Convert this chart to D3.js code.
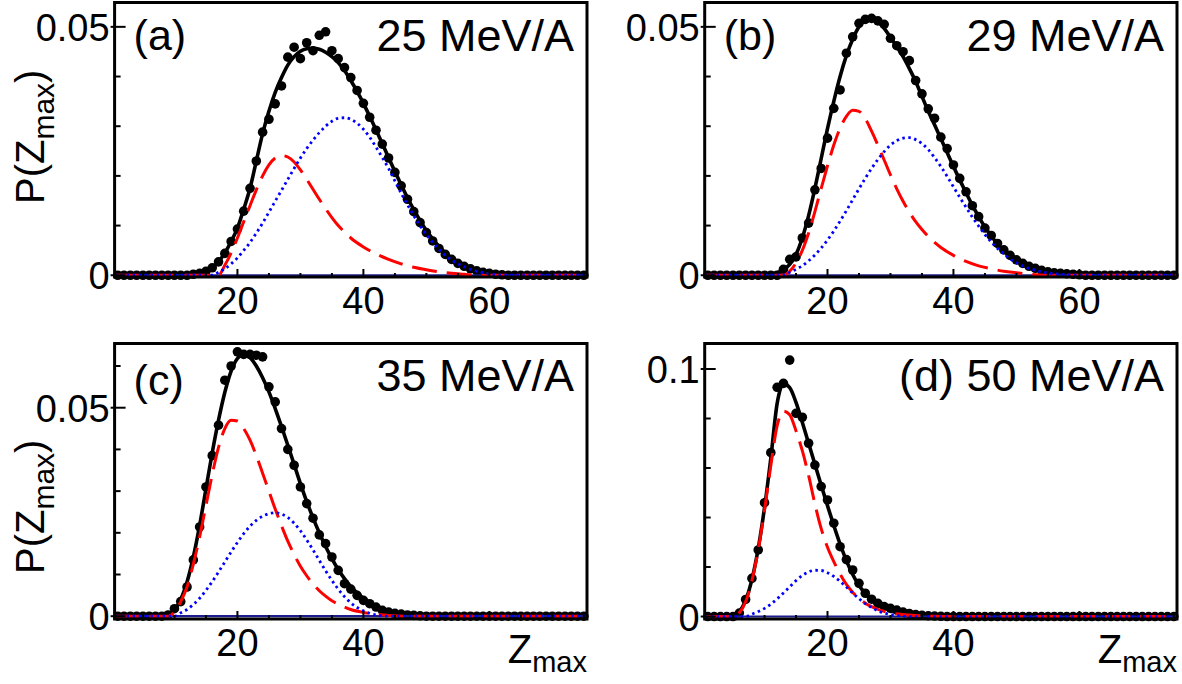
<!DOCTYPE html>
<html>
<head>
<meta charset="utf-8">
<script src="https://cdn.jsdelivr.net/npm/d3@7/dist/d3.min.js"></script>
<style>
body { margin: 0; background: #fff; }
svg text { font-family: "Liberation Sans", Arial, Helvetica, sans-serif; fill: #000; }
</style>
</head>
<body>
<svg id="chart" width="1182" height="684"></svg>
<script>
// ---- data: P(Zmax) for Zmax = 1..75 ----
var pointsA = [0,0,0,0,0,0,0,0,0,0,0,0,
    0.0002,0.0004,0.0008,0.0015,0.0027,0.0044,0.0068,0.0093,0.0129,0.0175,
    0.0230,0.0288,0.0314,0.0345,0.0381,0.0439,0.0459,0.0436,0.0468,0.0452,
    0.0483,0.0490,0.0452,0.0436,0.0418,0.0398,0.0372,0.0346,0.0318,0.0292,
    0.0264,0.0236,0.0207,0.0180,0.0153,0.0128,0.0106,0.0086,0.0069,0.0054,
    0.0042,0.0032,0.0024,0.0018,0.0013,0.0009,0.0006,0.0004,0.0002,0.0001,
    0,0,0,0,0,0,0,0,0,0,0,0,0];
var pointsB = [0,0,0,0,0,0,0,0,0,0,0,0,
    0.0012,0.0032,0.0037,0.0075,0.0105,0.0172,0.0215,0.0276,0.0336,0.0373,
    0.0447,0.0480,0.0507,0.0515,0.0517,0.0512,0.0505,0.0477,0.0462,0.0450,
    0.0432,0.0392,0.0365,0.0335,0.0316,0.0278,0.0255,0.0222,0.0195,0.0168,
    0.0140,0.0118,0.0095,0.0080,0.0064,0.0051,0.0040,0.0031,0.0024,0.0018,
    0.0014,0.0010,0.0007,0.0005,0.0004,0.0003,0.0002,0.0001,
    0,0,0,0,0,0,0,0,0,0,0,0,0,0,0];
var pointsC = [0,0,0,0,0,0,0,0,
    0.0003,0.0018,0.0035,0.0070,0.0135,0.0214,0.0310,0.0385,0.0458,0.0566,
    0.0600,0.0634,0.0628,0.0628,0.0626,0.0622,0.0550,0.0514,0.0450,0.0400,
    0.0362,0.0310,0.0270,0.0235,0.0195,0.0174,0.0142,0.0110,0.0078,0.0065,
    0.0050,0.0038,0.0030,0.0022,0.0014,0.0010,0.0007,0.0005,0.0003,0.0002,
    0.0001,
    0,0,0,0,0,0,0,0,0,0,0,0,0,0,0,0,0,0,0,0,0,0,0,0,0,0];
var pointsD = [0,0,0,0,0,
    0.0014,0.0069,0.0154,0.0269,0.0460,0.0662,0.0926,0.0942,0.1036,0.0821,
    0.0805,0.0700,0.0612,0.0525,0.0471,0.0377,0.0282,0.0230,0.0188,0.0134,
    0.0094,0.0070,0.0053,0.0040,0.0033,0.0026,0.0018,0.0012,0.0008,0.0005,
    0.0003,0.0002,0.0001,
    0,0,0,0,0,0,0,0,0,0,0,0,0,0,0,0,0,0,0,0,0,0,0,0,0,0,0,0,0,0,0,0,0,0,0,0,0];

// fit curves [Zmax, P]: total (solid), component 1 (dashed), component 2 (dotted)
var totalA = [[0.5,0],[10,0],[12,0.0001],[13,0.0002],[14,0.0004],[15,0.0008],[16,0.0015],[17,0.0027],
    [18,0.0045],[19,0.0068],[20,0.0095],[21,0.0133],[22,0.0175],[23,0.0230],[24,0.0285],[25,0.0330],
    [26,0.0368],[27,0.0398],[28,0.0423],[29,0.0440],[30,0.0451],[31,0.0456],[32,0.0457],[33,0.0455],
    [34,0.0449],[35,0.0440],[36,0.0428],[37,0.0412],[38,0.0392],[39,0.0370],[40,0.0346],[41,0.0320],
    [42,0.0293],[43,0.0265],[44,0.0237],[45,0.0209],[46,0.0182],[47,0.0156],[48,0.0132],[49,0.0110],
    [50,0.0090],[51,0.0073],[52,0.0058],[53,0.0045],[54,0.0035],[55,0.0027],[56,0.0020],[57,0.0015],
    [58,0.0011],[59,0.0008],[60,0.0005],[62,0.0002],[64,0],[75.5,0]];
var redA = [[0.5,0],[17,0],[18,0.0020],[19,0.0045],[20,0.0075],[21,0.0108],[22,0.0140],[23,0.0172],
    [24,0.0200],[25,0.0222],[26,0.0236],[27,0.0241],[28,0.0238],[29,0.0228],[30,0.0212],[31,0.0193],
    [32,0.0173],[33,0.0153],[34,0.0134],[35,0.0116],[36,0.0100],[37,0.0087],[38,0.0075],[40,0.0057],
    [42,0.0043],[44,0.0032],[46,0.0023],[48,0.0016],[50,0.0011],[52,0.0007],[54,0.0004],[56,0.0002],
    [58,0],[75.5,0]];
var blueA = [[0.5,0],[16,0],[17,0.0006],[18,0.0013],[19,0.0023],[20,0.0035],[21,0.0050],[22,0.0066],
    [23,0.0085],[24,0.0105],[25,0.0127],[26,0.0149],[27,0.0171],[28,0.0193],[29,0.0215],[30,0.0236],
    [31,0.0255],[32,0.0272],[33,0.0287],[34,0.0300],[35,0.0310],[36,0.0316],[37,0.0317],[38,0.0314],
    [39,0.0306],[40,0.0294],[41,0.0278],[42,0.0258],[43,0.0237],[44,0.0215],[45,0.0190],[46,0.0165],
    [47,0.0142],[48,0.0120],[49,0.0100],[50,0.0082],[51,0.0066],[52,0.0052],[53,0.0040],[54,0.0031],
    [55,0.0023],[56,0.0017],[57,0.0012],[58,0.0008],[60,0.0003],[62,0],[75.5,0]];

var totalB = [[0.5,0],[10,0],[11,0.0002],[12,0.0005],[13,0.0011],[14,0.0022],[15,0.0042],[16,0.0075],
    [17,0.0120],[18,0.0175],[19,0.0235],[20,0.0295],[21,0.0350],[22,0.0400],[23,0.0442],[24,0.0475],
    [25,0.0500],[26,0.0513],[27,0.0516],[28,0.0510],[29,0.0497],[30,0.0479],[31,0.0460],[32,0.0440],
    [33,0.0416],[34,0.0390],[35,0.0360],[36,0.0330],[37,0.0303],[38,0.0275],[39,0.0247],[40,0.0219],
    [41,0.0192],[42,0.0166],[43,0.0141],[44,0.0118],[45,0.0097],[46,0.0079],[47,0.0063],[48,0.0049],
    [49,0.0038],[50,0.0029],[51,0.0022],[52,0.0016],[53,0.0012],[54,0.0008],[55,0.0006],[56,0.0004],
    [58,0.0002],[60,0],[75.5,0]];
var redB = [[0.5,0],[13,0],[14,0.0008],[15,0.0025],[16,0.0050],[17,0.0085],[18,0.0128],[19,0.0175],
    [20,0.0220],[21,0.0262],[22,0.0296],[23,0.0320],[24,0.0332],[25,0.0330],[26,0.0315],[27,0.0290],
    [28,0.0262],[29,0.0232],[30,0.0202],[31,0.0174],[32,0.0149],[33,0.0127],[34,0.0108],[35,0.0092],
    [36,0.0078],[37,0.0066],[38,0.0056],[40,0.0040],[42,0.0028],[44,0.0019],[46,0.0013],[48,0.0008],
    [50,0.0005],[52,0.0002],[55,0],[75.5,0]];
var blueB = [[0.5,0],[13,0],[14,0.0006],[15,0.0012],[16,0.0019],[17,0.0029],[18,0.0041],[19,0.0055],
    [20,0.0071],[21,0.0089],[22,0.0109],[23,0.0130],[24,0.0152],[25,0.0174],[26,0.0195],[27,0.0215],
    [28,0.0233],[29,0.0249],[30,0.0262],[31,0.0271],[32,0.0276],[33,0.0277],[34,0.0273],[35,0.0265],
    [36,0.0253],[37,0.0237],[38,0.0219],[39,0.0199],[40,0.0178],[41,0.0157],[42,0.0137],[43,0.0117],
    [44,0.0099],[45,0.0082],[46,0.0067],[47,0.0054],[48,0.0043],[49,0.0033],[50,0.0025],[51,0.0019],
    [52,0.0014],[54,0.0007],[56,0.0003],[58,0.0001],[60,0],[75.5,0]];

var totalC = [[0.5,0],[8,0],[9,0.0004],[10,0.0015],[11,0.0040],[12,0.0082],[13,0.0142],[14,0.0218],
    [15,0.0305],[16,0.0392],[17,0.0470],[18,0.0537],[19,0.0588],[20,0.0618],[21,0.0628],[22,0.0620],
    [23,0.0600],[24,0.0572],[25,0.0538],[26,0.0498],[27,0.0455],[28,0.0410],[29,0.0364],[30,0.0318],
    [31,0.0275],[32,0.0236],[33,0.0200],[34,0.0167],[35,0.0138],[36,0.0112],[37,0.0090],[38,0.0071],
    [39,0.0056],[40,0.0043],[41,0.0033],[42,0.0025],[43,0.0018],[44,0.0013],[45,0.0009],[46,0.0006],
    [48,0.0003],[50,0.0001],[52,0],[75.5,0]];
var redC = [[0.5,0],[9,0],[10,0.0010],[11,0.0035],[12,0.0070],[13,0.0125],[14,0.0190],[15,0.0265],
    [16,0.0340],[17,0.0405],[18,0.0450],[19,0.0470],[20,0.0468],[21,0.0450],[22,0.0422],[23,0.0385],
    [24,0.0343],[25,0.0300],[26,0.0257],[27,0.0217],[28,0.0180],[29,0.0148],[30,0.0120],[31,0.0097],
    [32,0.0077],[33,0.0061],[34,0.0048],[35,0.0037],[36,0.0029],[37,0.0022],[38,0.0016],[40,0.0009],
    [42,0.0005],[44,0.0002],[47,0],[75.5,0]];
var blueC = [[0.5,0],[10,0],[11,0.0008],[12,0.0016],[13,0.0028],[14,0.0043],[15,0.0062],[16,0.0083],
    [17,0.0106],[18,0.0130],[19,0.0154],[20,0.0177],[21,0.0198],[22,0.0216],[23,0.0230],[24,0.0240],
    [25,0.0246],[26,0.0248],[27,0.0245],[28,0.0237],[29,0.0223],[30,0.0205],[31,0.0183],[32,0.0159],
    [33,0.0134],[34,0.0109],[35,0.0086],[36,0.0065],[37,0.0047],[38,0.0032],[39,0.0021],[40,0.0013],
    [41,0.0007],[42,0.0003],[44,0],[75.5,0]];

var totalD = [[0.5,0],[4,0],[5,0.0005],[6,0.0020],[7,0.0065],[8,0.0150],[9,0.0275],[10,0.0440],
    [11,0.0640],[12,0.0860],[13,0.0940],[14,0.0925],[15,0.0865],[16,0.0785],[17,0.0700],[18,0.0615],
    [19,0.0530],[20,0.0448],[21,0.0368],[22,0.0293],[23,0.0226],[24,0.0170],[25,0.0126],[26,0.0092],
    [27,0.0066],[28,0.0047],[29,0.0034],[30,0.0025],[31,0.0018],[32,0.0013],[33,0.0009],[35,0.0004],
    [38,0.0001],[40,0],[75.5,0]];
var redD = [[0.5,0],[5,0],[6,0.0015],[7,0.0060],[8,0.0145],[9,0.0270],[10,0.0430],[11,0.0610],
    [12,0.0770],[13,0.0830],[14,0.0815],[15,0.0750],[16,0.0670],[17,0.0570],[18,0.0455],[19,0.0355],
    [20,0.0280],[21,0.0222],[22,0.0172],[23,0.0130],[24,0.0098],[25,0.0073],[26,0.0054],[27,0.0040],
    [28,0.0029],[29,0.0021],[30,0.0015],[32,0.0008],[34,0.0004],[37,0.0001],[40,0],[75.5,0]];
var blueD = [[0.5,0],[7,0],[8,0.0010],[9,0.0020],[10,0.0033],[11,0.0050],[12,0.0071],[13,0.0095],
    [14,0.0120],[15,0.0145],[16,0.0166],[17,0.0180],[18,0.0187],[19,0.0186],[20,0.0177],[21,0.0162],
    [22,0.0142],[23,0.0119],[24,0.0095],[25,0.0072],[26,0.0052],[27,0.0036],[28,0.0023],[29,0.0014],
    [30,0.0008],[31,0.0004],[33,0],[75.5,0]];

// axis ticks and labels
var zDomain = [0.5, 75.5];
var xMajor = [20, 40, 60];
var xMinor = [5, 10, 15, 25, 30, 35, 45, 50, 55, 65, 70, 75];
var xLabelsTop = [20, 40, 60];
var xLabelsBottom = [20, 40];
var yMajorSmall = [0, 0.05];
var yMinorSmall = [0.01, 0.02, 0.03, 0.04, 0.06];
var yMajorBig = [0, 0.1];
var yMinorBig = [0.02, 0.04, 0.06, 0.08];
var tags = ["(a)", "(b)", "(c)", ""];
var energies = ["25 MeV/A", "29 MeV/A", "35 MeV/A", "(d) 50 MeV/A"];

// ---- layout ----
var svg = d3.select("#chart");
svg.append("rect").attr("width", 1182).attr("height", 684).attr("fill", "#fff");

var panels = [
    {points: pointsA, total: totalA, red: redA, blue: blueA, yDomain: [-0.00035, 0.0549],
     yMajor: yMajorSmall, yMinor: yMinorSmall, xLabels: xLabelsTop,
     left: 114.6, right: 587, top: 2.5, bottom: 277, textY: 51, tagY: 50, titleY: 204, xTitle: false},
    {points: pointsB, total: totalB, red: redB, blue: blueB, yDomain: [-0.00035, 0.0549],
     yMajor: yMajorSmall, yMinor: yMinorSmall, xLabels: xLabelsTop,
     left: 704.7, right: 1177, top: 2.5, bottom: 277, textY: 51, tagY: 50, titleY: null, xTitle: false},
    {points: pointsC, total: totalC, red: redC, blue: blueC, yDomain: [-0.00067, 0.0654],
     yMajor: yMajorSmall, yMinor: yMinorSmall, xLabels: xLabelsBottom,
     left: 114.6, right: 587, top: 343.5, bottom: 619, textY: 391, tagY: 395, titleY: 574, xTitle: true},
    {points: pointsD, total: totalD, red: redD, blue: blueD, yDomain: [-0.001, 0.1103],
     yMajor: yMajorBig, yMinor: yMinorBig, xLabels: xLabelsBottom,
     left: 704.7, right: 1177, top: 343.5, bottom: 619, textY: 391, tagY: 391, titleY: null, xTitle: true}
];

function fmtY(v){
    if(v == 0) return "0";
    return d3.format("")(+v.toFixed(3));
}

function draw_panel(p, idx){
    var x = d3.scaleLinear().domain(zDomain).range([p.left, p.right]);
    var y = d3.scaleLinear().domain(p.yDomain).range([p.bottom, p.top]);
    var g = svg.append("g").attr("class", "panel" + idx);

    //data points
    g.append("g").selectAll("circle")
        .data(p.points)
        .enter().append("circle")
        .attr("cx", function(d, i){ return x(i + 1); })
        .attr("cy", function(d){ return y(d); })
        .attr("r", 4.8)
        .attr("fill", "#000");

    var line = d3.line()
        .x(function(d){ return x(d[0]); })
        .y(function(d){ return y(d[1]); })
        .curve(d3.curveMonotoneX);

    //total fit
    g.append("path").datum(p.total)
        .attr("d", line)
        .attr("fill", "none")
        .attr("stroke", "#000")
        .attr("stroke-width", 3.6);

    //zero line
    g.append("line")
        .attr("x1", p.left).attr("x2", p.right)
        .attr("y1", y(0)).attr("y2", y(0))
        .attr("stroke", "#1c1c8e")
        .attr("stroke-width", 2.2);

    //component 1
    g.append("path").datum(p.red)
        .attr("d", line)
        .attr("fill", "none")
        .attr("stroke", "#ff0000")
        .attr("stroke-width", 3)
        .attr("stroke-dasharray", "25,10");

    //component 2
    g.append("path").datum(p.blue)
        .attr("d", line)
        .attr("fill", "none")
        .attr("stroke", "#0000ff")
        .attr("stroke-width", 2.8)
        .attr("stroke-dasharray", "2.5,3.5");

    //frame
    g.append("rect")
        .attr("x", p.left).attr("y", p.top)
        .attr("width", p.right - p.left)
        .attr("height", p.bottom - p.top)
        .attr("fill", "none")
        .attr("stroke", "#000")
        .attr("stroke-width", 3);

    //y ticks
    g.selectAll(".ymaj").data(p.yMajor).enter().append("line")
        .attr("x1", p.left - 4).attr("x2", p.left + 11)
        .attr("y1", function(d){ return y(d); })
        .attr("y2", function(d){ return y(d); })
        .attr("stroke", "#000").attr("stroke-width", 2);
    g.selectAll(".ymin").data(p.yMinor).enter().append("line")
        .attr("x1", p.left).attr("x2", p.left + 6)
        .attr("y1", function(d){ return y(d); })
        .attr("y2", function(d){ return y(d); })
        .attr("stroke", "#000").attr("stroke-width", 2);
    g.selectAll(".ylab").data(p.yMajor).enter().append("text")
        .attr("x", p.left - 5)
        .attr("y", function(d){ return y(d) + 14; })
        .attr("text-anchor", "end")
        .style("font-size", "38px")
        .text(fmtY);

    //x ticks
    g.selectAll(".xmaj").data(xMajor).enter().append("line")
        .attr("x1", function(d){ return x(d); })
        .attr("x2", function(d){ return x(d); })
        .attr("y1", p.bottom).attr("y2", p.bottom - 8)
        .attr("stroke", "#000").attr("stroke-width", 2);
    g.selectAll(".xmin").data(xMinor).enter().append("line")
        .attr("x1", function(d){ return x(d); })
        .attr("x2", function(d){ return x(d); })
        .attr("y1", p.bottom).attr("y2", p.bottom - 4)
        .attr("stroke", "#000").attr("stroke-width", 2);
    g.selectAll(".xlab").data(p.xLabels).enter().append("text")
        .attr("x", function(d){ return x(d); })
        .attr("y", p.bottom + 37)
        .attr("text-anchor", "middle")
        .style("font-size", "38px")
        .text(function(d){ return d; });

    //labels inside the frame
    if(tags[idx] != ""){
        g.append("text")
            .attr("x", p.left + 19).attr("y", p.tagY)
            .style("font-size", "43px")
            .text(tags[idx]);
    }
    g.append("text")
        .attr("x", p.right - 13).attr("y", p.textY)
        .attr("text-anchor", "end")
        .style("font-size", "45px")
        .text(energies[idx]);

    //axis titles
    if(p.titleY != null){
        var t = g.append("text")
            .attr("transform", "translate(44," + p.titleY + ") rotate(-90)")
            .style("font-size", "40px");
        t.append("tspan").text("P(Z");
        t.append("tspan").attr("dy", 10).style("font-size", "30px").text("max");
        t.append("tspan").attr("dy", -10).text(")");
    }
    if(p.xTitle){
        var t2 = g.append("text")
            .attr("x", p.right).attr("y", p.bottom + 44)
            .attr("text-anchor", "end")
            .style("font-size", "40px");
        t2.append("tspan").text("Z");
        t2.append("tspan").attr("dy", 9).style("font-size", "29px").text("max");
    }
}

panels.forEach(function(p, i){ draw_panel(p, i); });
</script>
</body>
</html>
